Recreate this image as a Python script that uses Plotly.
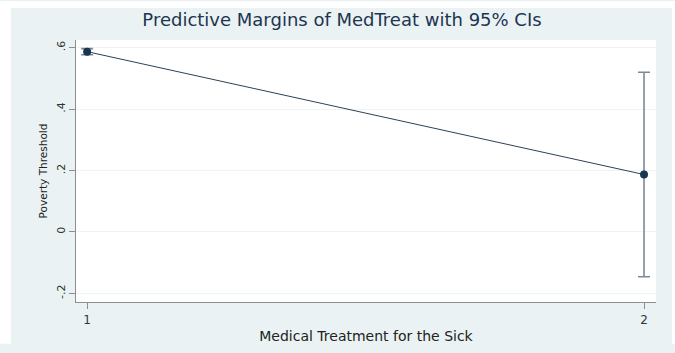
import plotly.graph_objects as go

# Predictive margins of MedTreat with 95% confidence intervals
med_treat = [1, 2]
margin = [0.587, 0.187]
ci_half = [0.010, 0.333]

y_ticks = [-0.2, 0, 0.2, 0.4, 0.6]
y_tick_text = ["-.2", "0", ".2", ".4", ".6"]
x_ticks = [1, 2]
x_tick_text = ["1", "2"]

navy = "#1a3550"
bg = "#eaf2f3"
font_family = "DejaVu Sans, Verdana, sans-serif"

fig = go.Figure()
fig.add_trace(go.Scatter(
    x=med_treat, y=margin, mode="lines+markers",
    line=dict(color="#2c4258", width=1),
    marker=dict(color=navy, size=8),
    error_y=dict(type="data", array=ci_half, visible=True,
                 color="#7d8a96", thickness=1.6, width=6),
    showlegend=False, hoverinfo="skip",
))

W, H = 675, 353
ml, mr, mt, mb = 76, 19, 40, 43
pw, ph = W - ml - mr, H - mt - mb

def px_x(p):
    return (p - ml) / pw

def px_y(p):
    return (H - mb - p) / ph

# white border strips around the graph region
shapes = [
    dict(type="rect", xref="paper", yref="paper", layer="below",
         x0=px_x(0), x1=px_x(11), y0=px_y(H), y1=px_y(0),
         fillcolor="white", line=dict(width=0)),
    dict(type="rect", xref="paper", yref="paper", layer="below",
         x0=px_x(0), x1=px_x(W), y0=px_y(7), y1=px_y(0),
         fillcolor="white", line=dict(width=0)),
    dict(type="rect", xref="paper", yref="paper", layer="below",
         x0=px_x(672), x1=px_x(W), y0=px_y(H), y1=px_y(0),
         fillcolor="white", line=dict(width=0)),
]

fig.update_layout(
    width=W, height=H,
    margin=dict(l=ml, r=mr, t=mt, b=mb),
    paper_bgcolor=bg, plot_bgcolor="white",
    font=dict(family=font_family, color="#222"),
    title=dict(text="Predictive Margins of MedTreat with 95% CIs",
               x=342 / W, xanchor="center", y=1 - 20 / H, yanchor="middle",
               font=dict(size=18, color="#1e3450")),
    shapes=shapes,
    xaxis=dict(
        range=[0.98, 2.0215], tickvals=x_ticks, ticktext=x_tick_text,
        showgrid=False, zeroline=False,
        showline=True, linecolor="#8a8f94", linewidth=1.2,
        ticks="outside", ticklen=6, tickcolor="#8a8f94",
        tickfont=dict(size=12, color="#333"),
        title=dict(text="Medical Treatment for the Sick",
                   font=dict(size=14, color="#222"), standoff=5),
    ),
    yaxis=dict(
        range=[-0.228, 0.625], tickvals=y_ticks, ticktext=y_tick_text,
        tickangle=-90,
        showgrid=True, gridcolor="#eef3f5", gridwidth=1, zeroline=False,
        showline=True, linecolor="#8a8f94", linewidth=1.2,
        ticks="outside", ticklen=6, tickcolor="#8a8f94",
        tickfont=dict(size=11, color="#333"),
        title=dict(text="Poverty Threshold",
                   font=dict(size=10.5, color="#222"), standoff=4),
    ),
)

fig.write_html("out.html")
